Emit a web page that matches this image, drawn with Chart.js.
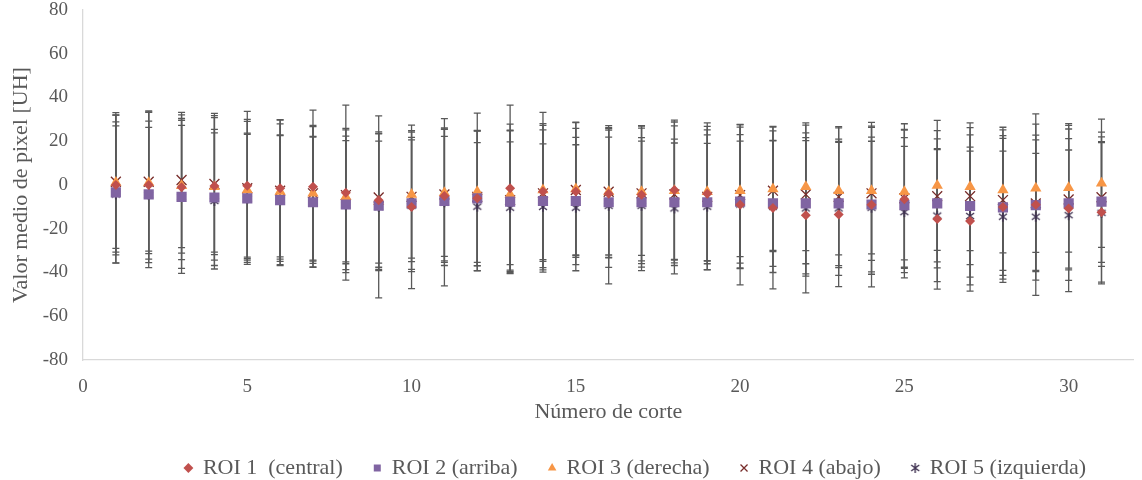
<!DOCTYPE html>
<html>
<head>
<meta charset="utf-8">
<script src="https://cdn.jsdelivr.net/npm/chart.js@4"></script>
<style>
  html, body { margin: 0; padding: 0; background: #fff; }
  #wrap { width: 1142px; height: 480px; }
</style>
</head>
<body>
<div id="wrap"><canvas id="chart"></canvas></div>
<script>
const corte = [1,2,3,4,5,6,7,8,9,10,11,12,13,14,15,16,17,18,19,20,21,22,23,24,25,26,27,28,29,30,31];

// valor medio [UH]
const roi1 = [0, 0, -1, -0.5, -0.3, -1.5, -0.8, -3.5, -7, -10, -5, -6, -1.5, -3, -3, -4, -4.5, -2.3, -4, -9, -10.5, -13.8, -13.5, -9, -6.5, -15.5, -16.5, -10, -9, -10.7, -12.5];
const roi2 = [-3.4, -4.3, -5.4, -5.7, -6.1, -6.9, -7.9, -8.9, -9.5, -8.4, -7.3, -6.1, -7.6, -7.3, -7.3, -7.9, -7.9, -7.9, -7.9, -7.6, -8.4, -8.4, -8.4, -8.9, -9.2, -8.4, -9.6, -10.2, -9.2, -8.4, -7.6];
const roi3 = [1.2, 1.0, -0.3, -0.8, -2.3, -3.0, -3.8, -5.4, -7.6, -4.3, -3.5, -3.1, -4.3, -2.3, -1.8, -3.1, -3.1, -2.6, -3.1, -2.6, -1.8, -0.8, -2.6, -2.6, -3.1, -0.2, -0.8, -2.3, -1.5, -1.3, 0.8];
const roi4 = [1.5, 1.5, 2.3, 0.5, -1.5, -2.6, -3.8, -4.6, -5.7, -5.4, -4.3, -5.4, -6.9, -3.8, -2.3, -3.1, -3.8, -4.3, -5.4, -4.6, -2.6, -4.3, -5.4, -3.8, -6.1, -5.1, -5.1, -6.9, -8.4, -6.6, -5.6];
const roi5 = [-4.3, -4.6, -5.4, -7.3, -6.3, -7.0, -7.6, -9.2, -10.0, -9.5, -7.9, -9.9, -10.4, -10.0, -10.4, -9.5, -9.5, -10.7, -9.9, -8.9, -9.9, -10.7, -10.7, -10.4, -12.4, -14.0, -14.2, -14.5, -14.5, -13.8, -12.7];

// desviacion estandar (barras de error)
const sd1 = [31.9, 33.9, 33.1, 31.3, 34.0, 31.4, 35.0, 40.0, 30.6, 37.4, 30.4, 31.0, 38.0, 31.1, 28.9, 29.1, 31.4, 32.0, 30.8, 36.7, 37.0, 35.5, 33.0, 37.6, 31.6, 32.1, 32.0, 31.3, 41.5, 38.0, 31.9];
const sd2 = [32.3, 33.5, 32.7, 31.1, 29.3, 29.5, 29.8, 31.2, 29.6, 30.2, 29.5, 30.8, 32.4, 32.5, 29.1, 29.8, 29.6, 28.9, 30.8, 30.6, 28.8, 32.2, 29.4, 30.8, 30.9, 29.5, 32.5, 32.8, 29.8, 29.6, 29.6];
const sd3 = [31.9, 32.4, 30.8, 33.5, 31.4, 30.9, 30.5, 30.6, 31.0, 29.1, 29.1, 36.0, 32.1, 35.5, 30.5, 28.9, 29.1, 31.4, 31.5, 30.1, 28.6, 29.2, 29.3, 28.9, 31.1, 29.7, 29.2, 28.7, 29.3, 29.4, 29.3];
const sd4 = [30.5, 31.7, 30.9, 31.2, 31.5, 32.3, 31.0, 30.5, 30.0, 29.6, 30.4, 30.0, 32.0, 31.1, 30.8, 30.2, 30.9, 31.3, 30.6, 31.1, 27.3, 31.7, 31.5, 30.7, 31.5, 30.0, 31.3, 32.1, 31.2, 32.2, 29.8];
const sd5 = [31.3, 30.9, 35.0, 31.1, 30.0, 29.9, 29.8, 29.5, 41.6, 30.1, 38.2, 29.3, 30.1, 28.8, 28.8, 35.7, 29.6, 29.9, 28.9, 29.0, 30.1, 31.0, 30.6, 30.4, 30.1, 30.2, 31.5, 30.0, 29.0, 29.8, 32.5];

const xTicks = [0, 5, 10, 15, 20, 25, 30];

const font = "'Liberation Serif', 'Times New Roman', serif";
const grey = '#595959';

// asterisk marker like the spreadsheet one (x with a vertical stroke)
function asterisk(size, color) {
  const c = document.createElement('canvas');
  c.width = c.height = size;
  const g = c.getContext('2d');
  g.strokeStyle = color;
  g.lineWidth = 1.4;
  const a = 2, b = size - 2;
  g.beginPath();
  g.moveTo(a, a + 1); g.lineTo(b, b - 1);
  g.moveTo(b, a + 1); g.lineTo(a, b - 1);
  g.moveTo(size / 2, a - 1); g.lineTo(size / 2, b + 1);
  g.stroke();
  return c;
}

function pts(vals) {
  return corte.map((c, i) => ({x: c, y: vals[i]}));
}

function noPad(s) {
  s.paddingLeft = 0; s.paddingRight = 0; s.paddingTop = 0; s.paddingBottom = 0;
}

const errorBars = {
  id: 'errorBars',
  beforeDatasetsDraw(chart) {
    const {ctx, scales: {x, y}} = chart;
    ctx.save();
    ctx.strokeStyle = grey;
    ctx.lineWidth = 1.3;
    chart.data.datasets.forEach(ds => {
      ds.errors.forEach((e, j) => {
        const m = ds.data[j].y;
        const px = x.getPixelForValue(ds.data[j].x);
        const top = y.getPixelForValue(m + e);
        const bot = y.getPixelForValue(m - e);
        ctx.beginPath();
        ctx.moveTo(px, top); ctx.lineTo(px, bot);
        ctx.moveTo(px - 3.5, top); ctx.lineTo(px + 3.5, top);
        ctx.moveTo(px - 3.5, bot); ctx.lineTo(px + 3.5, bot);
        ctx.stroke();
      });
    });
    ctx.restore();
  }
};

// the legend sits a bit right of the canvas centre in the original
const legendShift = {
  id: 'legendShift',
  afterLayout(chart) {
    chart.legend.left += 62;
    chart.legend.right += 62;
  }
};

new Chart(document.getElementById('chart'), {
  type: 'scatter',
  data: {
    datasets: [
      {label: 'ROI 1  (central)', data: pts(roi1), errors: sd1, pointStyle: 'rectRot', radius: 5,
        backgroundColor: '#C0504D', borderColor: '#C0504D', borderWidth: 0},
      {label: 'ROI 2 (arriba)', data: pts(roi2), errors: sd2, pointStyle: 'rect', radius: 7.2,
        backgroundColor: '#8064A2', borderColor: '#8064A2', borderWidth: 0},
      {label: 'ROI 3 (derecha)', data: pts(roi3), errors: sd3, pointStyle: 'triangle', radius: 6.5,
        backgroundColor: '#F79646', borderColor: '#F79646', borderWidth: 0},
      {label: 'ROI 4 (abajo)', data: pts(roi4), errors: sd4, pointStyle: 'crossRot', radius: 7,
        backgroundColor: '#772C2A', borderColor: '#772C2A', borderWidth: 1.3},
      {label: 'ROI 5 (izquierda)', data: pts(roi5), errors: sd5, pointStyle: asterisk(12, '#3F3151'), radius: 6,
        backgroundColor: '#3F3151', borderColor: '#3F3151', borderWidth: 1.3}
    ]
  },
  options: {
    responsive: true,
    maintainAspectRatio: false,
    animation: false,
    layout: {padding: {top: 10, right: -5, left: 0, bottom: -9}},
    plugins: {
      tooltip: {enabled: false},
      legend: {
        position: 'bottom',
        labels: {
          usePointStyle: true,
          boxWidth: 7,
          boxHeight: 7,
          padding: 31,
          color: grey,
          font: {family: font, size: 22}
        }
      }
    },
    scales: {
      x: {
        type: 'linear',
        min: 0,
        max: 31.98,
        afterBuildTicks: s => { s.ticks = xTicks.map(v => ({value: v})); },
        afterFit: s => { s.height = 66; noPad(s); },
        grid: {display: false, drawTicks: false},
        border: {display: true, color: '#D9D9D9', width: 1.3},
        ticks: {color: grey, font: {family: font, size: 19}, padding: 16, maxRotation: 0},
        title: {display: true, text: 'Número de corte', color: grey,
          font: {family: font, size: 22}, padding: {top: 0, bottom: 1}}
      },
      y: {
        min: -80,
        max: 80,
        afterFit: s => { s.width = 83; noPad(s); },
        grid: {display: false, drawTicks: false},
        border: {display: true, color: '#D9D9D9', width: 1.3},
        ticks: {stepSize: 20, color: grey, font: {family: font, size: 19}, padding: 15},
        title: {display: true, text: 'Valor medio de pixel [UH]', color: grey,
          font: {family: font, size: 22}, padding: {top: 8, bottom: 0}}
      }
    }
  },
  plugins: [errorBars, legendShift]
});
</script>
</body>
</html>
